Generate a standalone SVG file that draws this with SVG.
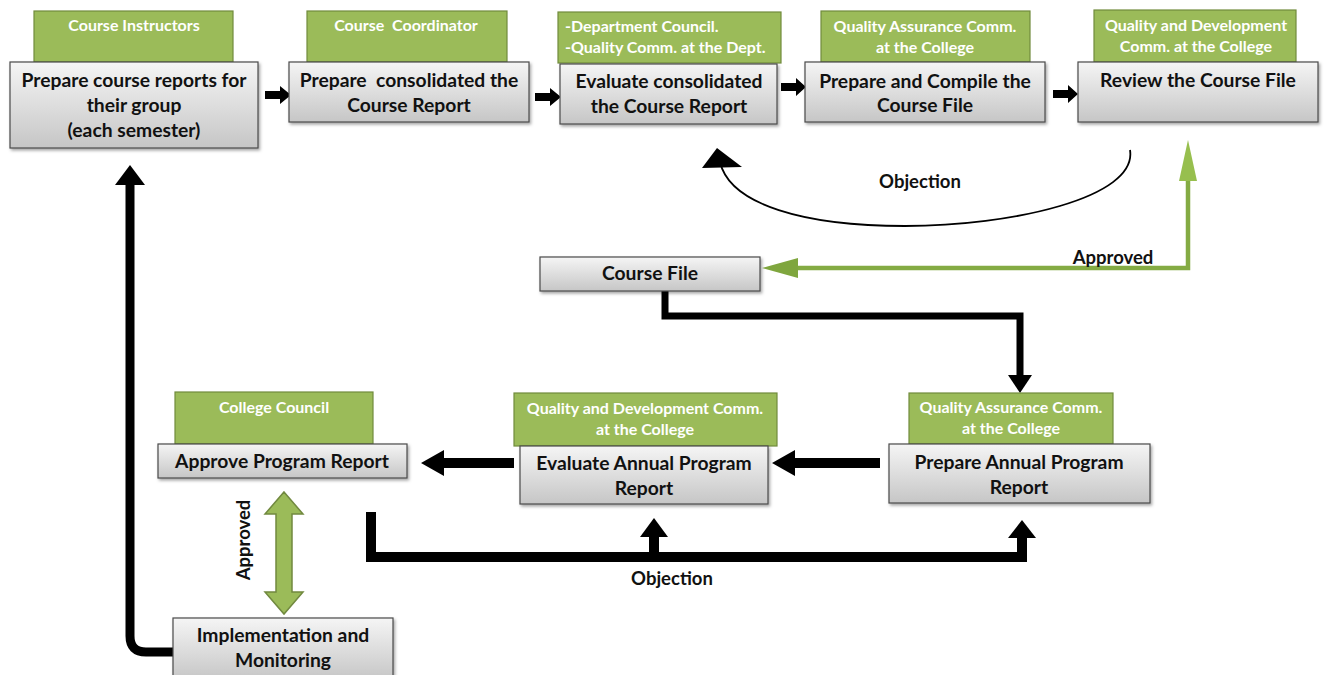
<svg xmlns="http://www.w3.org/2000/svg" width="1328" height="675" viewBox="0 0 1328 675">
  <style>
    .hdr { fill: #9bbb59; stroke: #718b3d; stroke-width: 1.2; }
    .box { fill: url(#grayGrad); stroke: #4a4a4a; stroke-width: 1.2; filter: url(#shadow); }
    .ht { font-family: Lato, "Open Sans", sans-serif; font-weight: bold; font-size: 16px; fill: #ffffff; text-anchor: middle; }
    .bt { font-family: Lato, "Open Sans", sans-serif; font-weight: bold; font-size: 19.3px; fill: #111111; text-anchor: middle; }
    .lbl { font-family: Lato, "Open Sans", sans-serif; font-weight: bold; font-size: 18.5px; fill: #111111; text-anchor: middle; }
    .blk { fill: #000000; }
    .thick { fill: none; stroke: #000000; }
  </style>
  <defs>
    <linearGradient id="grayGrad" x1="0" y1="0" x2="0" y2="1">
      <stop offset="0" stop-color="#f5f5f5"/>
      <stop offset="1" stop-color="#c6c6c6"/>
    </linearGradient>
    <filter id="shadow" x="-5%" y="-10%" width="115%" height="130%">
      <feDropShadow dx="1.5" dy="2" stdDeviation="1.5" flood-color="#000" flood-opacity="0.35"/>
    </filter>
  </defs>
  <rect width="1328" height="675" fill="#ffffff"/>

  <!-- connectors -->
  <g id="connectors">
    <!-- small block arrows on the top row -->
    <polygon class="blk" points="265,91 280,91 280,86 291,95 280,104 280,99 265,99"/>
    <polygon class="blk" points="535,93 550,93 550,88 561,97 550,106 550,101 535,101"/>
    <polygon class="blk" points="781,83 796,83 796,78 806,87 796,96 796,91 781,91"/>
    <polygon class="blk" points="1053,90 1068,90 1068,85 1078,94 1068,103 1068,98 1053,98"/>

    <!-- objection loop back to evaluation -->
    <path d="M1130,150 C1138,198 1010,226 905,226 C805,226 730,205 720,162" fill="none" stroke="#000" stroke-width="1.8"/>
    <polygon class="blk" points="717,148 702,168 742,167"/>

    <!-- approved: review -> course file -->
    <polyline points="1188,178 1188,268 796,268" fill="none" stroke="#84ab43" stroke-width="4.5"/>
    <polygon points="1188,140 1179,181 1197,181" fill="#97bf4e"/>
    <polygon points="762,268 798,258 798,278" fill="#7fa63e"/>

    <!-- course file -> prepare annual program report -->
    <polyline class="thick" points="665,291 665,316 1020,316 1020,378" stroke-width="7"/>
    <polygon class="blk" points="1020,393 1008,375 1032,375"/>

    <!-- block arrows on the lower row -->
    <polygon class="blk" points="880,458 795,458 795,450 772,463 795,476 795,468 880,468"/>
    <polygon class="blk" points="514,458 444,458 444,450 421,463 444,476 444,468 514,468"/>

    <!-- objection return from program approval -->
    <polyline class="thick" points="371,512 371,557 1022,557 1022,536" stroke-width="10"/>
    <line class="thick" x1="654" y1="557" x2="654" y2="536" stroke-width="10"/>
    <polygon class="blk" points="654,518 640,537 668,537"/>
    <polygon class="blk" points="1022,520 1008,538 1036,538"/>

    <!-- approved: two-way block arrow -->
    <polygon points="284,492 303,514 292,514 292,592 303,592 284,614 265,592 276,592 276,514 265,514" fill="#9bbb59" stroke="#71893f" stroke-width="1.5"/>

    <!-- monitoring feeds the next cycle -->
    <path d="M173,652 H146 Q130,652 130,636 V184" class="thick" stroke-width="9"/>
    <polygon class="blk" points="130,165 115,185 145,185"/>
  </g>

  <!-- labels on connectors -->
  <g id="connector-labels">
    <text class="lbl" x="920" y="188">Objection</text>
    <text class="lbl" x="1113" y="264">Approved</text>
    <text class="lbl" x="672" y="585">Objection</text>
    <text class="lbl" transform="translate(250,540) rotate(-90)">Approved</text>
  </g>

  <!-- top row -->
  <g id="node-instructors">
    <rect class="hdr" x="34" y="11" width="199" height="51"/>
    <text class="ht" x="134" y="31">Course Instructors</text>
    <rect class="box" x="10" y="62" width="248" height="86"/>
    <text class="bt" x="134" y="87">Prepare course reports for</text>
    <text class="bt" x="134" y="112">their group</text>
    <text class="bt" x="134" y="137">(each semester)</text>
  </g>

  <g id="node-coordinator">
    <rect class="hdr" x="307" y="11" width="200" height="51"/>
    <text class="ht" x="406" y="31" xml:space="preserve">Course  Coordinator</text>
    <rect class="box" x="289" y="62" width="240" height="60"/>
    <text class="bt" x="409" y="87" xml:space="preserve">Prepare  consolidated the</text>
    <text class="bt" x="409" y="112">Course Report</text>
  </g>

  <g id="node-department">
    <rect class="hdr" x="558" y="12" width="223" height="51"/>
    <text class="ht" x="565" y="32" style="text-anchor:start">-Department Council.</text>
    <text class="ht" x="565" y="53" style="text-anchor:start">-Quality Comm. at the Dept.</text>
    <rect class="box" x="560" y="64" width="217" height="60"/>
    <text class="bt" x="669" y="88">Evaluate consolidated</text>
    <text class="bt" x="669" y="113">the Course Report</text>
  </g>

  <g id="node-qa-college">
    <rect class="hdr" x="821" y="11" width="209" height="51"/>
    <text class="ht" x="925" y="32">Quality Assurance Comm.</text>
    <text class="ht" x="925" y="53">at the College</text>
    <rect class="box" x="805" y="62" width="240" height="60"/>
    <text class="bt" x="925" y="88">Prepare and Compile the</text>
    <text class="bt" x="925" y="112">Course File</text>
  </g>

  <g id="node-qd-college">
    <rect class="hdr" x="1094" y="10" width="202" height="52"/>
    <text class="ht" x="1196" y="31">Quality and Development</text>
    <text class="ht" x="1196" y="52">Comm. at the College</text>
    <rect class="box" x="1078" y="62" width="240" height="60"/>
    <text class="bt" x="1198" y="87">Review the Course File</text>
  </g>

  <!-- middle -->
  <g id="node-course-file">
    <rect class="box" x="540" y="257" width="220" height="34"/>
    <text class="bt" x="650" y="280">Course File</text>
  </g>

  <!-- lower row -->
  <g id="node-prepare-annual">
    <rect class="hdr" x="909" y="393" width="204" height="51"/>
    <text class="ht" x="1011" y="413">Quality Assurance Comm.</text>
    <text class="ht" x="1011" y="434">at the College</text>
    <rect class="box" x="889" y="444" width="261" height="59"/>
    <text class="bt" x="1019" y="469">Prepare Annual Program</text>
    <text class="bt" x="1019" y="494">Report</text>
  </g>

  <g id="node-evaluate-annual">
    <rect class="hdr" x="514" y="393" width="263" height="53"/>
    <text class="ht" x="645" y="414">Quality and Development Comm.</text>
    <text class="ht" x="645" y="435">at the College</text>
    <rect class="box" x="520" y="446" width="248" height="58"/>
    <text class="bt" x="644" y="470">Evaluate Annual Program</text>
    <text class="bt" x="644" y="495">Report</text>
  </g>

  <g id="node-approve">
    <rect class="hdr" x="175" y="392" width="198" height="52"/>
    <text class="ht" x="274" y="413">College Council</text>
    <rect class="box" x="158" y="444" width="249" height="34"/>
    <text class="bt" x="282" y="468">Approve Program Report</text>
  </g>

  <g id="node-implementation">
    <rect class="box" x="173" y="618" width="220" height="62"/>
    <text class="bt" x="283" y="642">Implementation and</text>
    <text class="bt" x="283" y="667">Monitoring</text>
  </g>
</svg>
